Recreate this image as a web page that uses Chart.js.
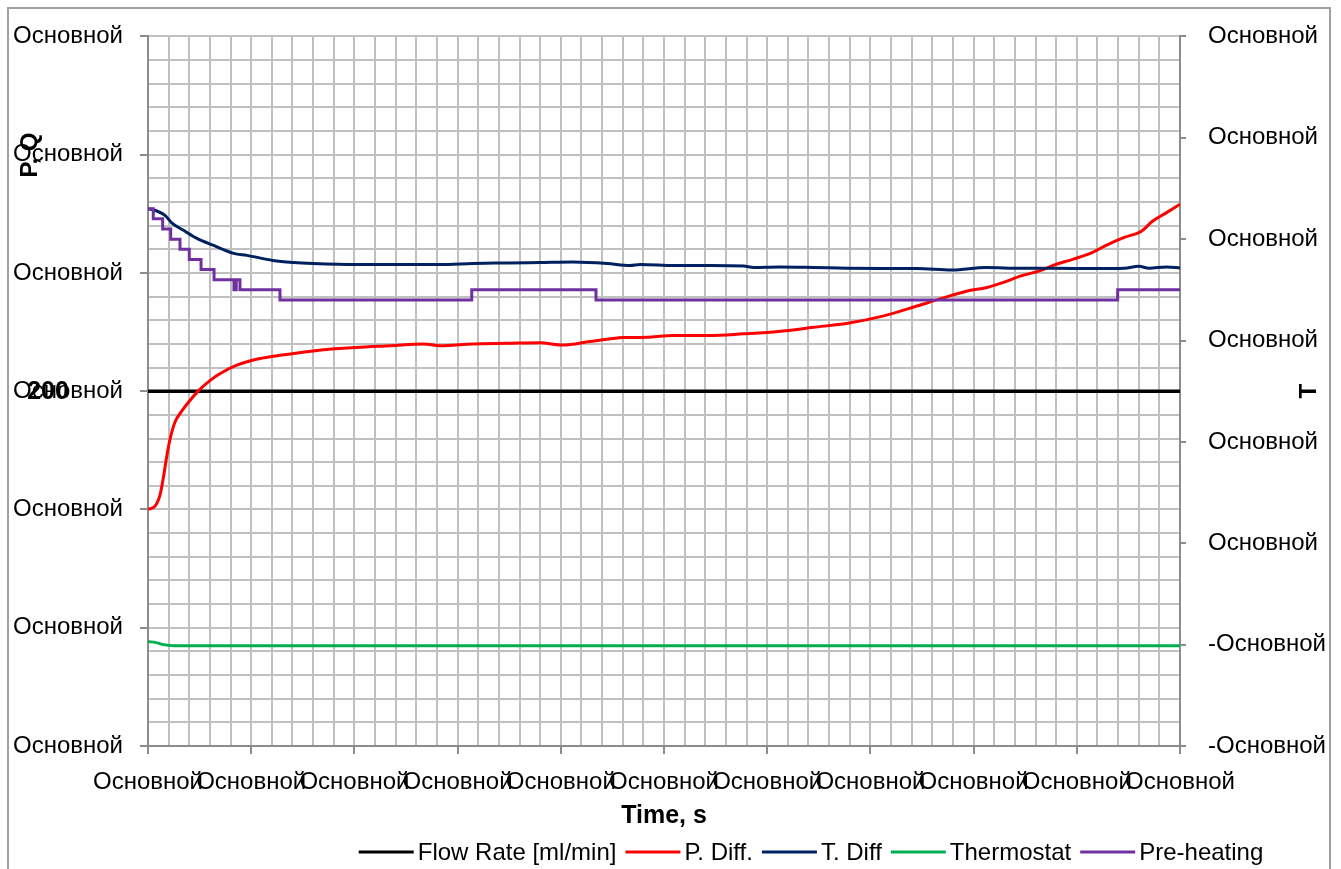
<!DOCTYPE html>
<html>
<head>
<meta charset="utf-8">
<script src="https://cdn.jsdelivr.net/npm/chart.js@4.4.1/dist/chart.umd.min.js"></script>
<style>
  html, body { margin: 0; padding: 0; background: #ffffff; }
  #wrap { width: 1341px; height: 869px; position: relative; }
</style>
</head>
<body>
<div id="wrap"><canvas id="c" width="1341" height="869"></canvas></div>
<script>
// ---- tick labels ----
const xTickLabels = ['Основной', 'Основной', 'Основной', 'Основной', 'Основной', 'Основной',
                     'Основной', 'Основной', 'Основной', 'Основной', 'Основной'];
const leftTickLabels = ['Основной', 'Основной', 'Основной', 'Основной', 'Основной', 'Основной', 'Основной'];
const rightTickLabels = ['-Основной', '-Основной', 'Основной', 'Основной', 'Основной', 'Основной', 'Основной', 'Основной'];

// ---- series: Flow Rate [ml/min] (left axis) ----
const flowTime = [0, 1000];
const flowRate = [200, 200];

// ---- series: P. Diff. (left axis) ----
const pTime = [0, 7, 12, 15, 18, 21, 26, 33, 41, 49, 60, 70, 86, 105, 121, 138, 170, 202, 235, 267,
               283, 315, 348, 380, 402, 428, 445, 461, 477, 510, 544, 577, 611, 645, 678, 712, 745, 769, 795, 812,
               829, 846, 863, 879, 896, 913, 930, 946, 963, 973, 987, 1000];
const pDiff = [180.0, 180.6, 182.7, 185.5, 188.8, 191.6, 194.7, 196.7, 198.5, 200.1, 201.8, 203.0, 204.4, 205.4, 205.9, 206.3, 207.0, 207.4, 207.7, 208.0,
               207.7, 208.0, 208.1, 208.2, 207.8, 208.4, 208.8, 209.1, 209.1, 209.4, 209.4, 209.7, 210.1, 210.8, 211.5, 212.7, 214.4, 215.7, 217.0, 217.5,
               218.4, 219.5, 220.3, 221.4, 222.3, 223.3, 224.8, 226.0, 227.1, 228.7, 230.2, 231.6];

// ---- series: T. Diff (right axis) ----
const tTime = [0, 8, 17, 23, 34, 47, 63, 83, 96, 121, 141, 160, 202, 251, 283, 315, 348, 380, 412, 445,
               467, 477, 510, 544, 577, 587, 611, 645, 678, 712, 745, 779, 812, 846, 879, 913, 946, 960, 970, 987, 1000];
const tDiff = [3.30, 3.28, 3.23, 3.16, 3.09, 3.01, 2.94, 2.86, 2.84, 2.79, 2.77, 2.76, 2.75, 2.75, 2.75, 2.76, 2.765, 2.77, 2.775, 2.76,
               2.74, 2.75, 2.74, 2.74, 2.735, 2.72, 2.725, 2.72, 2.713, 2.71, 2.71, 2.696, 2.72, 2.713, 2.713, 2.71, 2.713, 2.733, 2.713, 2.726, 2.716];

// ---- series: Thermostat (right axis) ----
const thermoTime = [0, 8, 15, 25, 40, 100, 300, 500, 700, 900, 1000];
const thermostat = [-0.97, -0.98, -1.00, -1.01, -1.01, -1.01, -1.01, -1.01, -1.01, -1.01, -1.01];

// ---- series: Pre-heating (right axis, step changes) ----
const preTime = [0, 5.1, 14.2, 22, 31, 40, 51.4, 64, 83.3, 85.5, 89.1, 127.9, 313.7, 434.1, 939.6, 1000];
const preHeat = [3.3, 3.2, 3.1, 3.0, 2.9, 2.8, 2.7, 2.6, 2.5, 2.6, 2.5, 2.4, 2.5, 2.4, 2.5, 2.5];

const FONT = "'Liberation Sans', Arial, sans-serif";
const GRID = '#c0c0c0';
const AXIS = '#8c8c8c';

function pts(xs, ys) { return xs.map((x, i) => ({ x: x, y: ys[i] })); }

// text, border and legend drawn on top of the chart
const decor = {
  id: 'decor',
  afterDraw(chart) {
    const ctx = chart.ctx;
    const area = chart.chartArea;
    ctx.save();

    // outer frame
    ctx.strokeStyle = '#a0a0a0';
    ctx.lineWidth = 2;
    ctx.beginPath();
    ctx.moveTo(8, 880); ctx.lineTo(8, 8); ctx.lineTo(1330, 8); ctx.lineTo(1330, 880);
    ctx.stroke();

    ctx.fillStyle = '#000';
    // left axis title
    ctx.font = 'bold 24px ' + FONT;
    ctx.textAlign = 'center';
    ctx.textBaseline = 'middle';
    ctx.save();
    ctx.translate(30, 155);
    ctx.rotate(-Math.PI / 2);
    ctx.fillText('P, Q', 0, 0);
    ctx.restore();

    // right axis title
    ctx.save();
    ctx.translate(1309, chart.scales.y1.getPixelForValue(1.5));
    ctx.rotate(-Math.PI / 2);
    ctx.fillText('T', 0, 0);
    ctx.restore();

    // flow rate value
    ctx.font = 'bold 25px ' + FONT;
    ctx.fillText(String(flowRate[0]), 48, chart.scales.y.getPixelForValue(flowRate[0]) + 1);

    // x axis title
    ctx.font = 'bold 25px ' + FONT;
    ctx.fillText('Time, s', (area.left + area.right) / 2, 816);

    // legend
    ctx.font = '24px ' + FONT;
    ctx.textAlign = 'left';
    const items = chart.data.datasets.map(d => ({ label: d.label, color: d.borderColor }));
    const LINE = 55, GAP1 = 4, GAP2 = 9;
    let total = 0;
    items.forEach((it, i) => {
      it.w = ctx.measureText(it.label).width;
      total += LINE + GAP1 + it.w + (i < items.length - 1 ? GAP2 : 0);
    });
    let x = 811 - total / 2;
    const ly = 852;
    items.forEach(it => {
      ctx.strokeStyle = it.color;
      ctx.lineWidth = 3;
      ctx.beginPath();
      ctx.moveTo(x, ly); ctx.lineTo(x + LINE, ly);
      ctx.stroke();
      ctx.fillText(it.label, x + LINE + GAP1, ly + 1);
      x += LINE + GAP1 + it.w + GAP2;
    });
    ctx.restore();
  }
};

new Chart(document.getElementById('c'), {
  type: 'line',
  data: {
    datasets: [
      { label: 'Flow Rate [ml/min]', data: pts(flowTime, flowRate), yAxisID: 'y',
        borderColor: '#000000', borderWidth: 3.5, order: 5 },
      { label: 'P. Diff.', data: pts(pTime, pDiff), yAxisID: 'y',
        borderColor: '#ff0000', borderWidth: 3, cubicInterpolationMode: 'monotone', order: 4 },
      { label: 'T. Diff', data: pts(tTime, tDiff), yAxisID: 'y1',
        borderColor: '#002060', borderWidth: 3, cubicInterpolationMode: 'monotone', order: 3 },
      { label: 'Thermostat', data: pts(thermoTime, thermostat), yAxisID: 'y1',
        borderColor: '#00b050', borderWidth: 3, cubicInterpolationMode: 'monotone', order: 2 },
      { label: 'Pre-heating', data: pts(preTime, preHeat), yAxisID: 'y1',
        borderColor: '#7030a0', borderWidth: 3, stepped: 'before', order: 1 }
    ]
  },
  options: {
    responsive: false,
    animation: false,
    events: [],
    elements: { point: { radius: 0 }, line: { fill: false } },
    layout: { padding: { top: 35, left: 0, right: 0, bottom: 0 } },
    plugins: { legend: { display: false }, tooltip: { enabled: false }, title: { display: false } },
    scales: {
      x: {
        type: 'linear', position: 'bottom', min: 0, max: 1000,
        afterFit(s) { s.height = 123; },
        ticks: {
          stepSize: 20, autoSkip: false, maxRotation: 0, minRotation: 0,
          padding: 14, color: '#000', font: { family: FONT, size: 24 },
          callback: (v) => (v % 100 === 0 ? xTickLabels[v / 100] : '')
        },
        grid: {
          color: GRID, lineWidth: 2, tickLength: 8,
          tickColor: (c) => (c.tick && c.tick.value % 100 === 0 ? AXIS : 'rgba(0,0,0,0)')
        },
        border: { display: true, color: AXIS, width: 2 }
      },
      y: {
        type: 'linear', position: 'left', min: 140, max: 260,
        afterFit(s) { s.width = 148; },
        ticks: {
          stepSize: 4, autoSkip: false, padding: 17, color: '#000', font: { family: FONT, size: 24 },
          callback: (v) => ((v - 140) % 20 === 0 ? leftTickLabels[(v - 140) / 20] : '')
        },
        grid: {
          color: GRID, lineWidth: 2, tickLength: 8,
          tickColor: (c) => (c.tick && (c.tick.value - 140) % 20 === 0 ? AXIS : 'rgba(0,0,0,0)')
        },
        border: { display: true, color: AXIS, width: 2 }
      },
      y1: {
        type: 'linear', position: 'right', min: -2, max: 5,
        afterFit(s) { s.width = 161; },
        ticks: {
          stepSize: 1, autoSkip: false, padding: 22, color: '#000', font: { family: FONT, size: 24 },
          callback: (v) => rightTickLabels[v + 2]
        },
        grid: { drawOnChartArea: false, tickLength: 6, tickColor: AXIS, lineWidth: 2 },
        border: { display: true, color: AXIS, width: 2 }
      }
    }
  },
  plugins: [decor]
});
</script>
</body>
</html>
